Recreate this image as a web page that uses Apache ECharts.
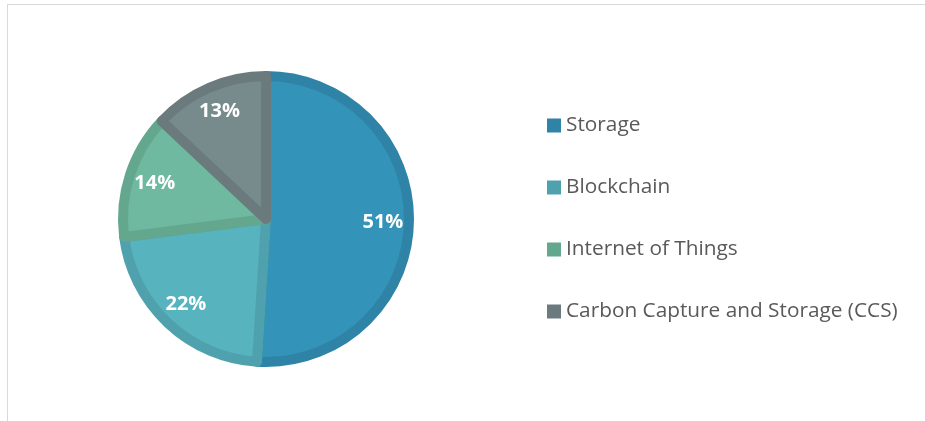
<!DOCTYPE html>
<html><head><meta charset="utf-8">
<script src="https://cdn.jsdelivr.net/npm/echarts@6/dist/echarts.min.js"></script>
<style>
html,body{margin:0;padding:0;background:#fff;}
#frame{position:absolute;left:7px;top:4px;width:930px;height:430px;border-left:1px solid #d9d9d9;border-top:1px solid #d9d9d9;}
#c{position:absolute;left:0;top:0;width:925px;height:421px;}
</style></head>
<body>
<div id="frame"></div>
<div id="c"></div>
<script>
const categories = ['Storage', 'Blockchain', 'Internet of Things', 'Carbon Capture and Storage (CCS)'];
const values = [51, 22, 14, 13];
const fillColors = ['#3393B9', '#57B3BE', '#6EB99F', '#778A8C'];
const borderColors = ['#2E83A6', '#4FA2AD', '#64A78F', '#6B7B7D'];

const chart = echarts.init(document.getElementById('c'), null, {renderer: 'canvas'});
const mainData = categories.map((n, i) => ({
  name: n, value: values[i],
  itemStyle: {color: fillColors[i], borderColor: borderColors[i]}
}));
const labelData = categories.map((n, i) => ({name: n, value: values[i]}));
chart.setOption({
  animation: false,
  legend: {
    orient: 'vertical', left: 547, top: 115, padding: 0,
    itemWidth: 14, itemHeight: 14, itemGap: 41, icon: 'rect',
    textStyle: {fontFamily: 'Open Sans', fontSize: 20.8, color: '#595959'},
    data: categories.map((n, i) => ({name: n, itemStyle: {color: borderColors[i], borderWidth: 0}}))
  },
  series: [
    {
      type: 'pie', center: [266, 219], radius: [0, 143], startAngle: 90, clockwise: true,
      silent: true, label: {show: false}, labelLine: {show: false},
      itemStyle: {borderWidth: 10, borderJoin: 'round'},
      data: mainData
    },
    {
      type: 'pie', center: [266, 219], radius: [80, 148], startAngle: 90, clockwise: true,
      silent: true, legendHoverLink: false,
      itemStyle: {color: 'rgba(0,0,0,0)', borderWidth: 0},
      label: {show: true, position: 'inside', formatter: p => p.value + '%',
        fontFamily: 'Open Sans', fontWeight: 'bold', fontSize: 20, color: '#fff'},
      labelLine: {show: false},
      data: labelData
    }
  ]
});
</script>
</body></html>
